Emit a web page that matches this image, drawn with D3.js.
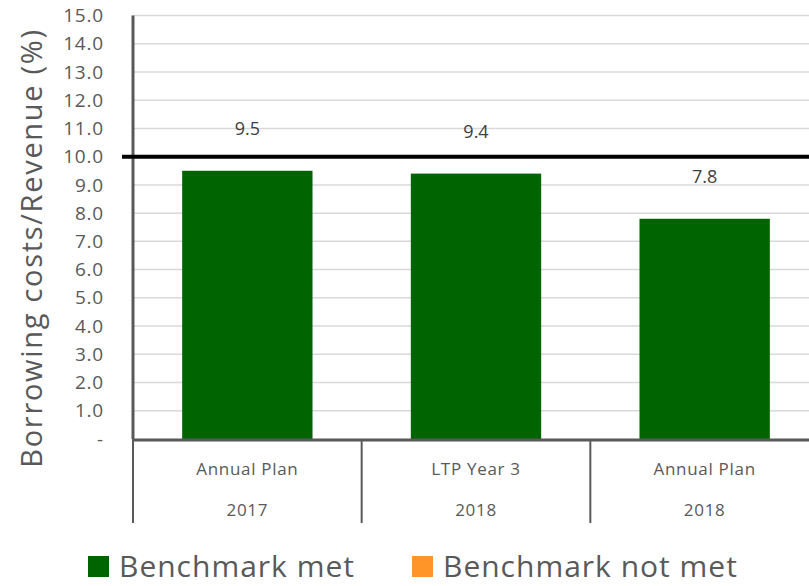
<!DOCTYPE html>
<html><head><meta charset="utf-8">
<script src="https://cdn.jsdelivr.net/npm/d3@7"></script>
<style>body{margin:0;background:#fff}svg{display:block}text{font-family:"Open Sans",sans-serif}</style>
</head><body><svg id="c" width="809" height="586"></svg>
<script>
const categories = ["Annual Plan|2017", "LTP Year 3|2018", "Annual Plan|2018"];
const values = [9.5, 9.4, 7.8];
const benchmark = 10.0;
const yTicks = [0,1,2,3,4,5,6,7,8,9,10,11,12,13,14,15];
const legendLabels = ["Benchmark met", "Benchmark not met"];
const colors = ["#006400", "#FF9428"];

const svg = d3.select("#c");
const L = 133, R = 819, T = 15.5, B = 439;
const x = d3.scaleBand().domain(categories).range([L, R]).paddingInner(0.43).paddingOuter(0.215);
const xb = d3.scaleBand().domain(categories).range([L, R]);
const y = d3.scaleLinear().domain([0, 15]).range([B, T]);

// gridlines
svg.append("g").selectAll("line").data(yTicks.slice(1)).join("line")
  .attr("x1", L).attr("x2", 809).attr("y1", d => y(d)).attr("y2", d => y(d))
  .attr("stroke", "#d9d9d9").attr("stroke-width", 1.5);

// y tick labels
svg.append("g").selectAll("text").data(yTicks).join("text")
  .attr("x", 104).attr("y", d => y(d)).attr("dy", "0.35em").attr("text-anchor", "end")
  .attr("font-size", 19).attr("letter-spacing", 0.8).attr("fill", "#595959")
  .text(d => d === 0 ? "-" : d.toFixed(1));

// bars
svg.append("g").selectAll("rect").data(values).join("rect")
  .attr("x", (d, i) => x(categories[i])).attr("width", x.bandwidth())
  .attr("y", d => y(d)).attr("height", d => y(0) - y(d))
  .attr("fill", colors[0]);

// value labels
svg.append("g").selectAll("text").data(values).join("text")
  .attr("x", (d, i) => x(categories[i]) + x.bandwidth() / 2)
  .attr("y", d => y(d) - 42).attr("dy", "0.35em").attr("text-anchor", "middle")
  .attr("font-size", 18).attr("fill", "#404040")
  .text(d => d.toFixed(1));

// y axis line
svg.append("line").attr("x1", L).attr("x2", L).attr("y1", T).attr("y2", B)
  .attr("stroke", "#595959").attr("stroke-width", 3);
// x axis line
svg.append("line").attr("x1", L).attr("x2", 809).attr("y1", B + 1).attr("y2", B + 1)
  .attr("stroke", "#595959").attr("stroke-width", 3);

// benchmark line
svg.append("line").attr("x1", 122).attr("x2", 809).attr("y1", y(benchmark)).attr("y2", y(benchmark))
  .attr("stroke", "#000").attr("stroke-width", 4);

// category dividers
const divs = categories.map(c => xb(c));
svg.append("g").selectAll("line").data(divs).join("line")
  .attr("x1", d => d).attr("x2", d => d).attr("y1", B).attr("y2", 523)
  .attr("stroke", "#595959").attr("stroke-width", 2);

// category labels
const cg = svg.append("g").selectAll("g").data(categories).join("g");
cg.append("text").attr("x", d => xb(d) + xb.bandwidth() / 2).attr("y", 469).attr("dy", "0.35em")
  .attr("text-anchor", "middle").attr("font-size", 17).attr("letter-spacing", 0.7).attr("fill", "#595959").text(d => d.split("|")[0]);
cg.append("text").attr("x", d => xb(d) + xb.bandwidth() / 2).attr("y", 510).attr("dy", "0.35em")
  .attr("text-anchor", "middle").attr("font-size", 17).attr("letter-spacing", 0.7).attr("fill", "#595959").text(d => d.split("|")[1]);

// y axis title
svg.append("text").attr("transform", "translate(32,248) rotate(-90)")
  .attr("text-anchor", "middle").attr("dy", "0.35em").attr("font-size", 29).attr("letter-spacing", 1.7).attr("fill", "#595959")
  .text("Borrowing costs/Revenue (%)");

// legend
const lx = [88, 412];
const lg = svg.append("g").selectAll("g").data(legendLabels).join("g")
  .attr("transform", (d, i) => `translate(${lx[i]},556)`);
lg.append("rect").attr("width", 21).attr("height", 21).attr("fill", (d, i) => colors[i]);
lg.append("text").attr("x", 31).attr("y", 21).attr("font-size", 30).attr("letter-spacing", 1)
  .attr("fill", "#595959").text(d => d);
</script></body></html>
